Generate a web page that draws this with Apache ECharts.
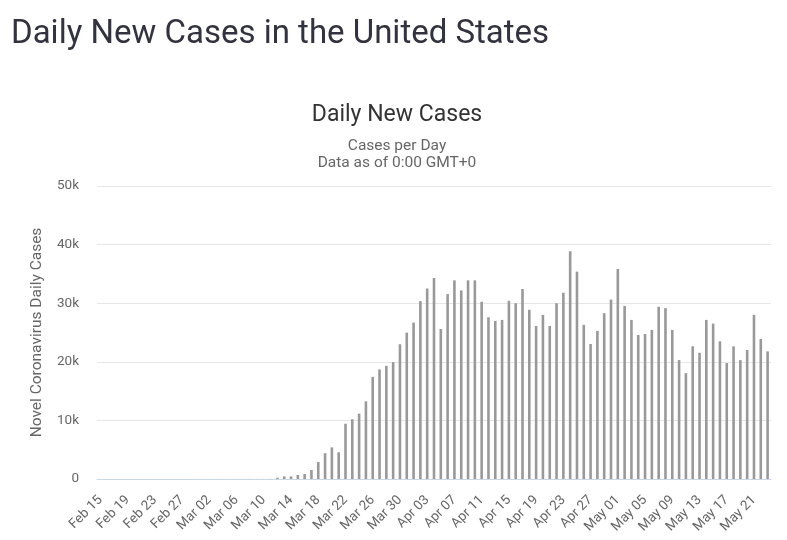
<!DOCTYPE html>
<html>
<head>
<meta charset="utf-8">
<script src="https://cdn.jsdelivr.net/npm/echarts@6/dist/echarts.min.js"></script>
<style>
html,body{margin:0;padding:0;background:#fff;}
#chart{width:787px;height:540px;}
</style>
</head>
<body>
<div id="chart"></div>
<script>
const pageTitle = "Daily New Cases in the United States";
const chartTitle = "Daily New Cases";
const chartSubtitle = "Cases per Day\nData as of 0:00 GMT+0";
const yAxisName = "Novel Coronavirus Daily Cases";

const categories = [
  "Feb 15","Feb 16","Feb 17","Feb 18","Feb 19","Feb 20","Feb 21","Feb 22","Feb 23","Feb 24","Feb 25","Feb 26","Feb 27","Feb 28","Feb 29",
  "Mar 01","Mar 02","Mar 03","Mar 04","Mar 05","Mar 06","Mar 07","Mar 08","Mar 09","Mar 10","Mar 11","Mar 12","Mar 13","Mar 14","Mar 15","Mar 16",
  "Mar 17","Mar 18","Mar 19","Mar 20","Mar 21","Mar 22","Mar 23","Mar 24","Mar 25","Mar 26","Mar 27","Mar 28","Mar 29","Mar 30","Mar 31",
  "Apr 01","Apr 02","Apr 03","Apr 04","Apr 05","Apr 06","Apr 07","Apr 08","Apr 09","Apr 10","Apr 11","Apr 12","Apr 13","Apr 14","Apr 15",
  "Apr 16","Apr 17","Apr 18","Apr 19","Apr 20","Apr 21","Apr 22","Apr 23","Apr 24","Apr 25","Apr 26","Apr 27","Apr 28","Apr 29","Apr 30",
  "May 01","May 02","May 03","May 04","May 05","May 06","May 07","May 08","May 09","May 10","May 11","May 12","May 13","May 14","May 15",
  "May 16","May 17","May 18","May 19","May 20","May 21","May 22","May 23"
];

const dailyNewCases = [
  // Feb 15 - Feb 29
  0,0,0,0,0,1,0,2,0,1,2,3,1,4,7,
  // Mar 01 - Mar 31
  8,6,9,12,10,14,11,15,13,16,18,220,450,450,690,860,
  1540,2900,4400,5400,4560,9430,10200,11150,13260,17430,18700,19300,19950,23000,24970,
  // Apr 01 - Apr 30
  26700,30360,32500,34300,25600,31560,33900,32180,33900,33900,30240,27600,26980,27150,30410,
  30000,32420,28870,26120,28010,26120,30000,31780,38870,35390,26300,23040,25270,28300,30620,
  // May 01 - May 23
  35850,29550,27150,24580,24750,25440,29380,29160,25440,20290,18060,22640,21540,27150,26520,
  23500,19780,22640,20290,22010,28010,23890,21780
];

const yMax = 50000;
const yInterval = 10000;

const chart = echarts.init(document.getElementById('chart'), null, {renderer:'canvas'});
chart.setOption({
  animation: false,
  backgroundColor: '#ffffff',
  textStyle: { fontFamily: 'Roboto, sans-serif' },
  title: [
    {
      text: pageTitle,
      left: 11,
      top: 18,
      padding: 0,
      textStyle: { fontFamily: 'Roboto', fontSize: 33, fontWeight: 'normal', color: '#33333f' }
    },
    {
      text: chartTitle,
      left: 397,
      top: 104,
      padding: 0,
      textAlign: 'center',
      textStyle: { fontFamily: 'Roboto', fontSize: 23, fontWeight: 'normal', color: '#333333' }
    },
    {
      text: chartSubtitle,
      left: 397,
      top: 137,
      padding: 0,
      textAlign: 'center',
      textStyle: { fontFamily: 'Roboto', fontSize: 15.5, lineHeight: 17.5, fontWeight: 'normal', color: '#666666' }
    }
  ],
  grid: { left: 97, right: 16, top: 186, bottom: 61, containLabel: false },
  xAxis: {
    type: 'category',
    data: categories,
    boundaryGap: true,
    axisLine: { show: true, lineStyle: { color: '#ccd6eb', width: 1 } },
    axisTick: { show: false },
    axisLabel: {
      interval: 3,
      rotate: 45,
      color: '#666666',
      fontSize: 13.5,
      fontFamily: 'Roboto',
      margin: 19
    },
    splitLine: { show: false }
  },
  yAxis: {
    type: 'value',
    min: 0,
    max: yMax,
    interval: yInterval,
    name: yAxisName,
    nameLocation: 'middle',
    nameGap: 52,
    nameTextStyle: { color: '#666666', fontSize: 15.5, fontFamily: 'Roboto' },
    axisLine: { show: false },
    axisTick: { show: false },
    axisLabel: {
      color: '#666666',
      fontSize: 13.5,
      fontFamily: 'Roboto',
      margin: 18,
      formatter: function (v) { return v === 0 ? '0' : (v / 1000) + 'k'; }
    },
    splitLine: { show: true, lineStyle: { color: '#e6e6e6', width: 1 } }
  },
  series: [{
    type: 'bar',
    name: 'Daily Cases',
    data: dailyNewCases,
    barWidth: 2.6,
    itemStyle: { color: '#999999' }
  }]
});
</script>
</body>
</html>
